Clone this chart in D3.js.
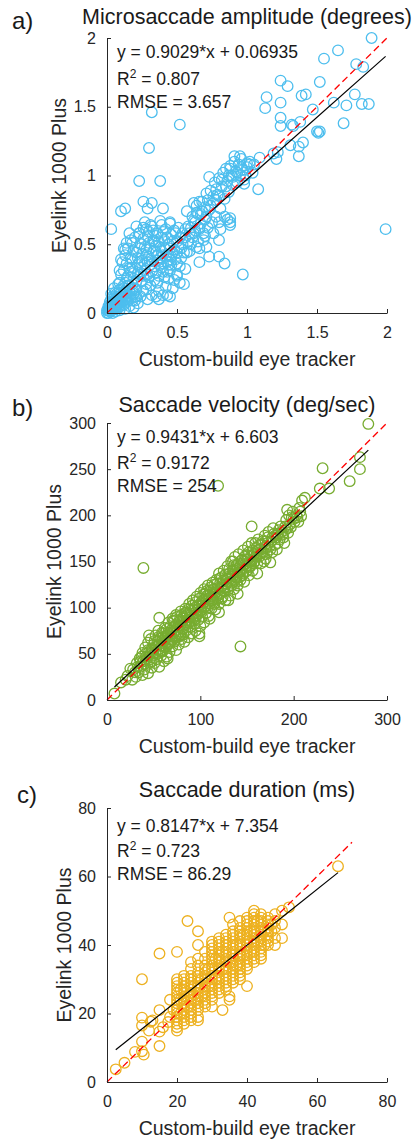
<!DOCTYPE html>
<html>
<head>
<meta charset="utf-8">
<script src="https://cdn.jsdelivr.net/npm/d3@7"></script>
<style>
  body { margin: 0; background: #fff; }
  svg { display: block; }
  text { font-family: "Liberation Sans", Arial, Helvetica, sans-serif; }
</style>
</head>
<body>
<svg id="fig" width="413" height="1140"></svg>
<script>
// ---- chart content ----
const panelLetters = ["a)", "b)", "c)"];
const panelTitles = ["Microsaccade amplitude (degrees)", "Saccade velocity (deg/sec)", "Saccade duration (ms)"];
const xAxisLabel = "Custom-build eye tracker";
const yAxisLabel = "Eyelink 1000 Plus";

const axisMax = [2, 300, 80];
const xTicks = [[0, 0.5, 1, 1.5, 2], [0, 100, 200, 300], [0, 20, 40, 60, 80]];
const yTicks = [[0, 0.5, 1, 1.5, 2], [0, 50, 100, 150, 200, 250, 300], [0, 20, 40, 60, 80]];

const fitSlope = [0.9029, 0.9431, 0.8147];
const fitIntercept = [0.06935, 6.603, 7.354];
const rSquared = ["0.807", "0.9172", "0.723"];
const rmse = ["3.657", "254", "86.29"];
const identityEnd = [2, 300, 70];

const markerColors = ["#4DBEEE", "#77AC30", "#EDB120"];

// Microsaccade amplitude (deg): [custom tracker, Eyelink]
const amplitudePoints = [
  [0.00,0.00],[0.01,0.00],[0.00,0.02],[0.04,0.00],[0.06,0.01],[0.09,0.02],[0.13,0.03],[0.19,0.04],
  [0.01,0.02],[0.02,0.01],[0.02,0.04],[0.03,0.03],[0.04,0.02],[0.03,0.06],[0.05,0.05],[0.06,0.03],
  [0.05,0.08],[0.07,0.06],[0.08,0.04],[0.06,0.10],[0.08,0.09],[0.09,0.07],[0.10,0.05],[0.04,0.12],
  [0.10,0.11],[0.11,0.08],[0.12,0.06],[0.07,0.14],[0.12,0.13],[0.13,0.10],[0.14,0.08],[0.09,0.17],
  [0.15,0.12],[0.16,0.05],[0.11,0.19],[0.14,0.16],[0.17,0.14],[0.18,0.09],[0.02,0.08],[0.01,0.05],
  [0.03,0.10],[0.22,0.07],[0.20,0.12],[0.18,0.17],[0.15,0.20],[0.06,0.15],[0.05,0.18],[0.08,0.21],
  [0.03,0.14],[0.09,0.31],[0.10,0.39],[0.13,0.46],[0.17,0.53],[0.23,0.58],[0.28,0.61],[0.32,0.63],
  [0.38,0.67],[0.45,0.65],
  [0.02,0.03],[0.03,0.02],[0.04,0.05],[0.05,0.03],[0.06,0.07],[0.07,0.04],[0.08,0.07],[0.09,0.10],
  [0.10,0.08],[0.11,0.12],[0.12,0.09],[0.13,0.15],[0.14,0.12],[0.15,0.09],[0.16,0.16],[0.17,0.11],
  [0.18,0.21],[0.19,0.14],[0.20,0.09],[0.21,0.17],[0.06,0.05],[0.04,0.08],[0.01,0.03],[0.02,0.06],
  [0.07,0.10],[0.10,0.15],[0.12,0.18],[0.08,0.12],[0.05,0.11],
  [0.13,0.22],[0.15,0.27],[0.12,0.31],[0.14,0.36],[0.13,0.42],[0.15,0.47],[0.17,0.40],[0.18,0.33],
  [0.19,0.25],[0.20,0.18],[0.21,0.12],[0.22,0.29],[0.23,0.37],[0.21,0.44],[0.24,0.50],[0.20,0.55],
  [0.25,0.23],[0.26,0.16],[0.27,0.31],[0.28,0.42],[0.27,0.48],[0.29,0.56],[0.30,0.26],[0.31,0.35],
  [0.31,0.20],[0.32,0.13],[0.33,0.45],[0.34,0.52],[0.33,0.60],[0.35,0.29],[0.36,0.38],[0.36,0.22],
  [0.37,0.16],[0.38,0.48],[0.39,0.55],[0.39,0.33],[0.40,0.42],[0.41,0.26],[0.42,0.61],[0.42,0.19],
  [0.43,0.37],[0.44,0.50],[0.45,0.31],[0.46,0.57],[0.47,0.44],[0.48,0.24],[0.49,0.39],[0.50,0.52],
  [0.51,0.62],[0.52,0.34],[0.53,0.47],[0.54,0.58],[0.16,0.20],[0.18,0.51],[0.23,0.58],[0.26,0.62],
  [0.17,0.30],[0.19,0.45],[0.22,0.35],[0.24,0.28],[0.28,0.21],[0.30,0.51],[0.34,0.24],[0.38,0.40],
  [0.40,0.30],[0.44,0.42],[0.46,0.35],[0.41,0.53],[0.36,0.58],[0.31,0.64],[0.25,0.43],[0.29,0.37],
  [0.35,0.44],[0.14,0.51],[0.12,0.47],[0.11,0.37],[0.10,0.28],[0.09,0.22],[0.16,0.58],[0.21,0.63],
  [0.27,0.66],[0.39,0.64],[0.45,0.66],[0.48,0.60],[0.44,0.25],[0.47,0.18],[0.37,0.10],[0.29,0.10],
  [0.24,0.12],[0.50,0.28],[0.53,0.40],[0.55,0.21],[0.43,0.13],[0.28,0.17],[0.35,0.12],[0.45,0.12],
  [0.52,0.22],[0.50,0.27],[0.56,0.32],[0.45,0.39],[0.50,0.44],[0.40,0.13],
  [0.14,0.25],[0.16,0.33],[0.18,0.39],[0.19,0.29],[0.21,0.23],[0.22,0.40],[0.23,0.47],[0.24,0.33],
  [0.25,0.38],[0.26,0.27],[0.26,0.54],[0.27,0.36],[0.28,0.46],[0.29,0.28],[0.30,0.41],[0.30,0.59],
  [0.31,0.47],[0.32,0.30],[0.32,0.38],[0.33,0.53],[0.34,0.34],[0.35,0.49],[0.35,0.56],[0.36,0.42],
  [0.37,0.27],[0.37,0.52],[0.38,0.35],[0.39,0.45],[0.40,0.59],[0.40,0.36],[0.41,0.47],[0.42,0.41],
  [0.43,0.55],[0.43,0.30],[0.44,0.35],[0.45,0.47],[0.46,0.41],[0.47,0.52],[0.48,0.46],[0.49,0.58],
  [0.50,0.36],[0.51,0.48],[0.52,0.55],[0.54,0.50],[0.55,0.44],[0.56,0.61],[0.58,0.52],[0.60,0.62],
  [0.61,0.55],[0.62,0.67],[0.63,0.60],[0.65,0.72],[0.67,0.65],[0.68,0.74],[0.70,0.77],[0.71,0.70],
  [0.74,0.78],[0.76,0.85],[0.78,0.90],[0.80,0.85],[0.82,0.97],[0.85,0.92],[0.87,1.00],[0.90,0.99],
  [0.93,1.02],[0.96,1.06],[0.99,1.00],
  [0.57,0.44],[0.64,0.48],[0.71,0.48],[0.69,0.53],[0.59,0.58],[0.66,0.61],[0.76,0.58],[0.81,0.61],
  [0.56,0.55],[0.58,0.63],[0.60,0.50],[0.61,0.70],[0.62,0.58],[0.63,0.66],[0.64,0.78],[0.65,0.52],
  [0.66,0.62],[0.67,0.72],[0.68,0.81],[0.69,0.58],[0.70,0.68],[0.71,0.87],[0.72,0.62],[0.73,0.75],
  [0.74,0.89],[0.75,0.66],[0.76,0.80],[0.77,0.95],[0.78,0.70],[0.79,0.86],[0.80,0.98],[0.81,0.76],
  [0.82,0.92],[0.83,1.02],[0.84,0.83],[0.85,1.05],[0.86,0.96],[0.87,0.88],[0.88,1.07],[0.89,1.00],
  [0.90,0.93],[0.91,1.10],[0.92,1.03],[0.93,0.95],[0.94,1.08],[0.95,1.00],[0.96,1.12],[0.97,1.04],
  [0.98,0.94],[1.00,1.06],[1.02,1.10],[1.04,1.02],[1.05,1.08],[0.57,0.74],[0.59,0.45],[0.62,0.80],
  [0.66,0.47],[0.70,0.56],[0.72,0.82],[0.80,0.66],[0.84,0.70],[0.86,0.68],[0.88,0.66],[0.64,0.73],
  [0.66,0.81],[0.73,0.99],[1.08,0.90],[0.97,0.28],[0.66,0.37],[0.73,0.41],[0.80,0.41],[0.84,0.36],
  [0.80,0.53],[0.91,1.14],[1.00,1.09],[0.88,1.05],[0.98,0.97],[0.78,0.82],[0.88,0.69],[0.88,0.64],
  [0.95,1.14],[1.02,1.08],[1.09,1.13],[1.19,1.16],[1.21,1.12],[1.22,1.17],[1.31,1.22],[1.37,1.21],
  [1.37,1.14],[1.40,1.24],[1.33,1.36],[1.38,1.39],[1.32,1.37],[1.24,1.42],[1.24,1.36],[1.50,1.32],
  [1.52,1.32],[1.51,1.31],[1.69,1.38],[1.47,1.48],[1.62,1.53],[1.71,1.51],[1.77,1.59],[1.82,1.52],
  [1.87,1.52],[1.39,1.58],[1.42,1.59],[1.24,1.53],[1.14,1.57],[1.13,1.49],[1.24,1.69],[1.29,1.65],
  [1.52,1.68],[1.55,1.85],[1.65,1.91],[1.78,1.81],[1.83,1.79],[1.89,2.00],
  [0.32,1.46],[0.52,1.37],[0.30,1.20],[0.23,0.96],[0.38,0.96],[0.26,0.81],[0.32,0.80],[0.29,0.76],
  [0.40,0.76],[0.10,0.74],[0.13,0.76],[0.03,0.61],[1.99,0.61]
];

// Saccade peak velocity (deg/sec): [custom tracker, Eyelink]
const velocityPoints = [
  [8,7],[15,19],[22,26],[27,22],[28,33],[31,25],[32,40],[34,30],[35,45],[36,36],[38,51],[38,27],
  [39,42],[40,33],[41,57],[42,47],[43,38],[44,62],[44,29],[45,52],[46,44],[47,66],[48,35],[48,56],
  [49,48],[50,60],[51,40],[52,70],[52,51],[53,44],[54,63],[55,55],[56,89],[56,36],[57,67],[58,48],
  [58,59],[59,73],[60,53],[61,42],[62,64],[62,78],[63,57],[64,47],[65,70],[66,61],[66,84],[67,52],
  [68,75],[69,66],[70,58],[70,88],[71,79],[72,63],[73,70],[74,54],[74,92],[75,82],[76,68],[77,60],
  [78,87],[78,74],[79,96],[80,66],[81,80],[82,90],[82,71],[83,63],[84,99],[85,84],[86,76],[86,93],
  [87,68],[88,104],[89,86],[90,79],[90,97],[91,72],[92,108],[93,90],[94,83],[94,100],[95,75],[96,112],
  [97,94],[98,87],[99,103],[100,80],[100,116],[101,97],[102,90],[103,108],[104,120],[104,84],[105,101],
  [106,94],[107,113],[108,105],[108,124],[109,91],[110,110],[111,118],[112,99],[113,127],[114,106],
  [115,114],[116,98],[117,130],[118,121],[119,110],[120,137],[120,104],[121,126],[122,116],[123,133],
  [124,112],[125,140],[126,122],[127,108],[128,131],[129,145],[130,120],[131,137],[132,113],[133,150],
  [134,127],[135,141],[136,120],[137,155],[138,133],[139,146],[140,124],[141,158],[142,138],[143,130],
  [144,151],[145,143],[146,162],[147,128],[148,147],[149,139],[150,157],[151,166],[152,135],[153,151],
  [154,145],[155,170],[156,140],[157,158],[158,150],[160,165],[161,137],[162,174],[163,155],[165,148],
  [166,168],[168,160],[169,178],[170,153],[172,170],[173,182],[175,149],[175,163],[177,176],[178,186],
  [180,168],[182,163],[183,180],[185,174],[186,188],[188,179],[190,170],[191,184],[192,195],[194,181],
  [195,200],[197,187],[199,204],[201,193],[203,200],[205,193],[206,208],[208,199],[209,216],[212,219],
  [228,229],[231,251],[238,229],[260,237],[271,250],[271,263],[280,299],[119,232],[39,143],[143,58],
  [155,188],[193,206],[30,30],[25,34],[20,22],[45,70],[55,75],[65,45],[99,69],[99,72],[110,88],
  [120,95],[130,108],[140,115],[60,68],[72,85],[85,95],[95,88],[105,115],[115,125],[125,118],[135,150],
  [145,135],[150,145],[160,155],[170,165],[180,178],[48,42],[58,52],[68,62],[78,70],[88,80],[112,108],
  [33,36],[36,42],[37,47],[40,39],[41,50],[43,45],[44,54],[46,50],[47,41],[49,55],[50,50],[51,64],
  [53,58],[54,50],[55,68],[56,60],[57,53],[59,64],[60,72],[61,58],[63,68],[64,77],[65,60],[66,72],
  [67,67],[68,80],[69,72],[70,65],[71,86],[72,74],[73,80],[74,68],[75,90],[76,76],[77,84],[78,80],
  [79,70],[80,92],[81,86],[82,78],[83,94],[84,82],[85,90],[86,86],[87,98],[88,84],[89,92],[90,90],
  [91,102],[92,88],[93,98],[94,94],[95,106],[96,92],[97,102],[98,98],[99,110],[100,96],[101,106],
  [102,102],[103,114],[104,100],[105,110],[106,107],[107,118],[108,100],[109,114],[110,104],[111,122],
  [112,112],[113,108],[114,120],[115,104],[116,116],[117,112],[118,126],[119,118],[120,114],[121,132],
  [122,122],[123,110],[124,124],[125,130],[126,118],[127,136],[128,126],[129,122],[130,132],[131,142],
  [132,128],[133,124],[134,136],[135,134],[136,146],[137,130],[138,142],[139,128],[140,138],[141,148],
  [142,133],[143,145],[144,140],[145,152],[146,137],[147,150],[148,156],[149,145],[150,140],[151,152],
  [152,160],[153,144],[154,156],[155,150],[156,162],[157,148],[158,158],[159,170],[160,156],[161,148],
  [162,162],[163,168],[164,158],[166,160],[167,172],[168,150],[170,172],[171,158],[172,176],[174,166],
  [176,172],[177,160],[179,180],[181,176],[183,170],[184,184],[187,182],[189,176],[191,188],[193,186],
  [196,190],[198,198],[200,196],[204,198],[207,204]
];

// Saccade duration (ms): [custom tracker, Eyelink]
const durationPoints = [
  [2.5,3.7],[5,5.6],[8,8.8],[10,9],[10.5,8],[10,11.8],[10,16.5],[10,18.8],[10,30],[12.5,17.6],
  [15,10.5],[15,14.7],[15,21],[15,37.5],[18,24],[17.5,17.5],[20,38],[12,15],[13,18],[16,16],[18,19],[19,21],
  [20,15],[20,16],[20,17],[20,18],[20,19],[20,20],[20,21],[20,22],[20,23],[20,24],[20,25],[20,26],[20,27],[20,28],[20,29],[20,30],
  [21,20],[21,24],[21,27],
  [22,17],[22,18],[22,19],[22,20],[22,21],[22,22],[22,23],[22,24],[22,25],[22,26],[22,27],[22,28],[22,29],[22,30],[22,31],
  [23,22],[23,25],[23,47],
  [24,18],[24,19],[24,20],[24,21],[24,22],[24,23],[24,24],[24,25],[24,26],[24,27],[24,28],[24,29],[24,30],[24,31],[24,33],[24,35],
  [25,24],[25,28],
  [26,18],[26,19],[26,21],[26,22],[26,23],[26,24],[26,25],[26,26],[26,27],[26,28],[26,29],[26,30],[26,31],[26,32],[26,34],[26,36],[26,40],[26,44],
  [27,25],[27,30],
  [28,22],[28,23],[28,24],[28,25],[28,26],[28,27],[28,28],[28,29],[28,30],[28,31],[28,32],[28,33],[28,34],[28,36],[28,38],
  [29,28],[29,33],
  [30,22],[30,24],[30,25],[30,26],[30,27],[30,28],[30,29],[30,30],[30,31],[30,32],[30,33],[30,34],[30,35],[30,36],[30,37],[30,38],[30,39],[30,40],[30,41],
  [31,30],[31,36],
  [32,26],[32,27],[32,28],[32,29],[32,30],[32,31],[32,32],[32,33],[32,34],[32,35],[32,36],[32,37],[32,38],[32,39],[32,40],[32,41],[32,42],
  [33,21],[33,33],[33,38],
  [34,27],[34,28],[34,29],[34,30],[34,31],[34,32],[34,33],[34,34],[34,35],[34,36],[34,37],[34,38],[34,39],[34,40],[34,41],[34,42],[34,43],
  [35,25],[35,24],[35,35],[35,48],
  [36,29],[36,30],[36,31],[36,32],[36,33],[36,34],[36,35],[36,36],[36,37],[36,38],[36,39],[36,40],[36,41],[36,42],[36,43],[36,44],[36,46],
  [37,34],[37,40],
  [38,30],[38,31],[38,32],[38,33],[38,34],[38,35],[38,36],[38,37],[38,38],[38,39],[38,40],[38,41],[38,42],[38,43],[38,44],[38,45],[38,47],
  [39,37],[39,43],
  [40,28],[40,33],[40,34],[40,35],[40,36],[40,37],[40,38],[40,39],[40,40],[40,41],[40,42],[40,43],[40,44],[40,45],[40,46],[40,47],[40,48],
  [41,38],[41,44],
  [42,35],[42,36],[42,37],[42,38],[42,39],[42,40],[42,41],[42,42],[42,43],[42,44],[42,45],[42,46],[42,47],[42,48],[42,49],[42,50],
  [43,41],[43,47],
  [44,36],[44,37],[44,38],[44,39],[44,40],[44,41],[44,42],[44,43],[44,44],[44,45],[44,46],[44,47],[44,48],[44,49],
  [45,40],[45,44],
  [46,40],[46,41],[46,42],[46,43],[46,44],[46,45],[46,46],[46,47],[46,48],
  [47,44],[47,46],
  [48,40],[48,42],[48,45],[48,47],[48,49],
  [50,42],[50,46],[50,50],
  [52,51],[66,63]
];

const panelData = [amplitudePoints, velocityPoints, durationPoints];

// ---- layout ----
const plotLeft = 107, plotRight = 387;
const plotTop = [38, 423, 808];
const plotBottom = [313, 700, 1082];
const titleGap = [14, 11, 11];
const letterPos = [[12, 29], [12, 416], [17, 803]];
const yLabelX = [66, 61, 71];
const statsOffsets = [[20, 47, 70], [20, 46, 69], [24, 49, 72]];

const textColor = "#262626";
const svg = d3.select("#fig");

panelData.forEach((points, i) => {
  const x = d3.scaleLinear().domain([0, axisMax[i]]).range([plotLeft, plotRight]);
  const y = d3.scaleLinear().domain([0, axisMax[i]]).range([plotBottom[i], plotTop[i]]);
  const g = svg.append("g");

  // scatter markers
  g.append("g").selectAll("circle").data(points).join("circle")
    .attr("cx", d => x(d[0]))
    .attr("cy", d => y(d[1]))
    .attr("r", 5.3)
    .attr("fill", "none")
    .attr("stroke", markerColors[i])
    .attr("stroke-width", 1.3);

  // least-squares fit across the data range
  const xExt = d3.extent(points, d => d[0]);
  const fit = d => fitSlope[i] * d + fitIntercept[i];
  g.append("line")
    .attr("x1", x(xExt[0])).attr("y1", y(fit(xExt[0])))
    .attr("x2", x(xExt[1])).attr("y2", y(fit(xExt[1])))
    .attr("stroke", "#000").attr("stroke-width", 1.2);

  // identity line
  g.append("line")
    .attr("x1", x(0)).attr("y1", y(0))
    .attr("x2", x(identityEnd[i])).attr("y2", y(identityEnd[i]))
    .attr("stroke", "#ff0000").attr("stroke-width", 1.3)
    .attr("stroke-dasharray", "7,4");

  // axes (ticks pointing inward)
  const xAxis = d3.axisBottom(x).tickValues(xTicks[i]).tickFormat(d => String(d))
    .tickSizeInner(-4).tickSizeOuter(0).tickPadding(14);
  const yAxis = d3.axisLeft(y).tickValues(yTicks[i]).tickFormat(d => String(d))
    .tickSizeInner(-4).tickSizeOuter(0).tickPadding(11);
  const gx = g.append("g").attr("transform", `translate(0,${plotBottom[i]})`).call(xAxis);
  const gy = g.append("g").attr("transform", `translate(${plotLeft},0)`).call(yAxis);
  [gx, gy].forEach(ax => {
    ax.select(".domain").attr("stroke", "#262626").attr("stroke-width", 1);
    ax.selectAll(".tick line").attr("stroke", "#262626");
    ax.selectAll(".tick text")
      .attr("fill", textColor)
      .style("font-size", "16px")
      .style("font-family", "'Liberation Sans', Arial, sans-serif");
  });

  // title
  g.append("text")
    .attr("x", (plotLeft + plotRight) / 2)
    .attr("y", plotTop[i] - titleGap[i])
    .attr("text-anchor", "middle")
    .attr("fill", "#1a1a1a")
    .style("font-size", "21.5px")
    .text(panelTitles[i]);

  // panel letter
  g.append("text")
    .attr("x", letterPos[i][0]).attr("y", letterPos[i][1])
    .attr("fill", "#1a1a1a")
    .style("font-size", "24px")
    .text(panelLetters[i]);

  // axis labels
  g.append("text")
    .attr("x", (plotLeft + plotRight) / 2)
    .attr("y", plotBottom[i] + 53)
    .attr("text-anchor", "middle")
    .attr("fill", textColor)
    .style("font-size", "19.5px")
    .text(xAxisLabel);
  g.append("text")
    .attr("transform", `translate(${yLabelX[i]},${(plotTop[i] + plotBottom[i]) / 2}) rotate(-90)`)
    .attr("text-anchor", "middle")
    .attr("fill", textColor)
    .style("font-size", "19.5px")
    .text(yAxisLabel);

  // fit statistics
  const sx = plotLeft + 10;
  const st = g.append("g").attr("fill", "#1a1a1a").style("font-size", "17.5px");
  st.append("text").attr("x", sx).attr("y", plotTop[i] + statsOffsets[i][0])
    .text(`y = ${fitSlope[i]}*x + ${fitIntercept[i]}`);
  const r2 = st.append("text").attr("x", sx).attr("y", plotTop[i] + statsOffsets[i][1]);
  r2.append("tspan").text("R");
  r2.append("tspan").attr("dy", -7).style("font-size", "12px").text("2");
  r2.append("tspan").attr("dy", 7).text(` = ${rSquared[i]}`);
  st.append("text").attr("x", sx).attr("y", plotTop[i] + statsOffsets[i][2])
    .text(`RMSE = ${rmse[i]}`);
});
</script>
</body>
</html>
